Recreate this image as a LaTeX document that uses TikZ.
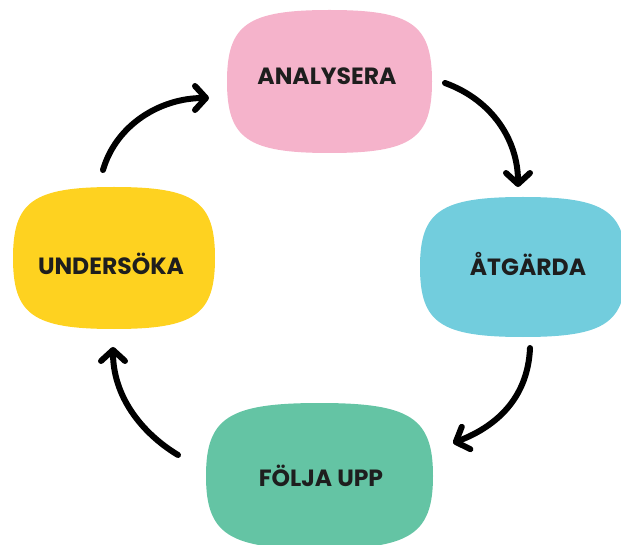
\documentclass[tikz,border=0pt]{standalone}
\usepackage{fontspec}
\setmainfont{Poppins}
\usetikzlibrary{arrows.meta}
\definecolor{cpink}{RGB}{245,179,203}
\definecolor{cyellow}{RGB}{254,210,32}
\definecolor{ccyan}{RGB}{114,205,221}
\definecolor{cgreen}{RGB}{100,196,164}
\definecolor{ctext}{RGB}{30,30,30}
\newcommand\myblob[5]{%
  \fill[#5] ({#1},{(#2+#4)/2})
    .. controls ({#1},{#2+0.1*(#4-#2)}) and ({#1+0.1*(#3-#1)},{#2}) .. ({(#1+#3)/2},{#2})
    .. controls ({#3-0.1*(#3-#1)},{#2}) and ({#3},{#2+0.1*(#4-#2)}) .. ({#3},{(#2+#4)/2})
    .. controls ({#3},{#4-0.1*(#4-#2)}) and ({#3-0.1*(#3-#1)},{#4}) .. ({(#1+#3)/2},{#4})
    .. controls ({#1+0.1*(#3-#1)},{#4}) and ({#1},{#4-0.1*(#4-#2)}) .. cycle;}
\begin{document}
\begin{tikzpicture}[x=1pt,y=-1pt,
  lbl/.style={font=\fontsize{23.5}{28}\selectfont\bfseries, text=ctext, inner sep=0pt},
  cyc/.style={line width=6pt, line cap=round, -{Straight Barb[length=11pt,width=24pt,round]}}]
\useasboundingbox (0,0) rectangle (621,545);
\begin{scope}
\clip (0,0) rectangle (621,545);
\myblob{227}{10}{432}{153}{cpink}
\myblob{13}{187}{215}{329}{cyellow}
\myblob{420}{197}{626}{337}{ccyan}
\myblob{206}{403}{433}{549}{cgreen}
\end{scope}
\node[lbl] (ana) at (327,76) {ANALYSERA};
\node[lbl] (und) at (111,264) {UNDERSÖKA};
\node[lbl] (atg) at (528,264) {ÅTGÄRDA};
\node[lbl] (fol) at (321,476) {FÖLJA UPP};
\coordinate (a1s) at (103,170);
\coordinate (a1e) at (209,98);
\coordinate (a2s) at (445,83);
\coordinate (a2e) at (518,187);
\coordinate (a3s) at (530,348);
\coordinate (a3e) at (453,443);
\coordinate (a4s) at (178,455);
\coordinate (a4e) at (113,347);
\draw[cyc] (a1s) .. controls (116,125) and (160,98) .. (a1e);
\draw[cyc] (a2s) .. controls (492,100) and (518,140) .. (a2e);
\draw[cyc] (a3s) .. controls (528,395) and (500,425) .. (a3e);
\draw[cyc] (a4s) .. controls (140,432) and (113,395) .. (a4e);
\end{tikzpicture}
\end{document}
